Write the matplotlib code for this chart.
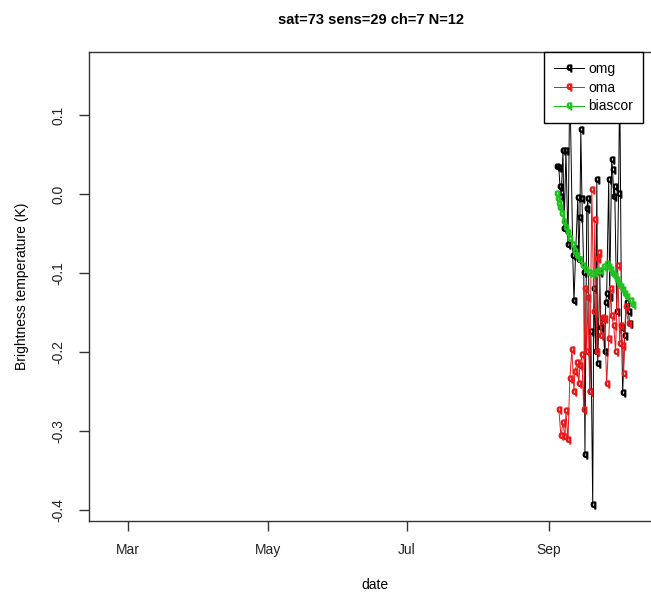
import datetime as dt
import matplotlib
matplotlib.use("Agg")
import matplotlib.pyplot as plt
import matplotlib.dates as mdates

plt.rcParams["font.family"] = ["Liberation Sans", "DejaVu Sans"]

# days after 1 Sep and the departures (K)
omg_days = [3.5, 4.3, 4.8, 5.3, 6.1, 6.6, 7.4, 8.3, 9.1, 10.4, 10.9, 11.7, 12.6,
            13.0, 13.5, 13.9, 14.4, 15.2, 15.7, 16.5, 17.0, 17.8, 18.3, 19.1,
            19.6, 20.4, 20.9, 21.3, 22.2, 22.6, 23.5, 24.3, 24.8, 25.2, 26.1,
            26.5, 27.4, 27.8, 28.3, 28.7, 29.6, 30.4, 30.9, 31.7, 32.2, 33.0,
            33.9, 34.8, 35.2]
omg_vals = [0.034, 0.033, 0.009, -0.004, 0.055, -0.044, 0.055, -0.065, 0.146,
            -0.079, -0.136, -0.07, -0.005, -0.084, -0.031, 0.081, -0.006, -0.1,
            -0.33, -0.019, -0.006, -0.25, -0.175, -0.394, -0.12, -0.2, 0.018,
            -0.215, -0.1, -0.169, -0.158, -0.2, -0.138, -0.126, 0.018, -0.13,
            0.043, 0.03, -0.004, 0.009, -0.15, 0.0, 0.15, -0.17, -0.252, -0.18,
            -0.138, -0.15, -0.165]

oma_days = [4.3, 5.2, 6.1, 7.0, 7.4, 8.3, 9.1, 10.0, 10.9, 11.3, 12.2, 13.0,
            13.5, 14.3, 15.2, 15.7, 16.5, 17.0, 17.8, 18.7, 19.6, 20.0, 20.9,
            21.3, 21.7, 22.6, 23.5, 24.3, 25.2, 26.1, 27.0, 27.4, 28.3, 29.1,
            30.0, 30.9, 31.3, 32.2, 32.6, 33.5, 34.8]
oma_vals = [-0.273, -0.306, -0.29, -0.308, -0.275, -0.311, -0.234, -0.197,
            -0.25, -0.225, -0.214, -0.24, -0.218, -0.204, -0.274, -0.12, -0.2,
            -0.132, -0.25, 0.005, -0.15, -0.033, -0.2, -0.082, -0.075, -0.18,
            -0.157, -0.158, -0.24, -0.184, -0.12, -0.155, -0.167, -0.2, -0.091,
            -0.19, -0.167, -0.192, -0.228, -0.143, -0.165]

bias_days = [3.5, 3.9, 4.3, 4.8, 5.7, 6.5, 7.4, 8.3, 9.1, 10.4, 11.3, 12.2,
             13.5, 14.8, 16.1, 17.4, 18.7, 20.0, 21.3, 22.6, 23.9, 25.2, 26.1,
             27.0, 27.8, 28.7, 29.6, 30.4, 31.3, 32.2, 33.0, 34.3, 35.7, 36.5]
bias_vals = [0.0, -0.006, -0.013, -0.018, -0.025, -0.035, -0.043, -0.050,
             -0.057, -0.065, -0.073, -0.078, -0.084, -0.091, -0.096, -0.100,
             -0.101, -0.100, -0.098, -0.097, -0.093, -0.089, -0.092, -0.096,
             -0.101, -0.104, -0.109, -0.114, -0.118, -0.122, -0.126, -0.131,
             -0.136, -0.140]

xtick_months = [3, 5, 7, 9]
xtick_labels = ["Mar", "May", "Jul", "Sep"]
year = 2015

sep1 = dt.datetime(year, 9, 1)
to_dates = lambda days: [sep1 + dt.timedelta(days=d) for d in days]

fig = plt.figure(figsize=(6.51, 5.92), dpi=100)
ax = fig.add_axes([0.1367, 0.1199, 0.8771, 0.7923])

qmark = r"$\mathsf{q}$"
ax.plot(to_dates(omg_days), omg_vals, color="black", lw=0.7, marker=qmark,
        ms=5, label="omg")
ax.plot(to_dates(oma_days), oma_vals, color="#e8191b", lw=0.7, marker=qmark,
        ms=5, label="oma")
ax.plot(to_dates(bias_days), bias_vals, color="#1fc21f", lw=0.8, marker=qmark,
        ms=5, label="biascor")

x0 = mdates.date2num(dt.datetime(year, 3, 1)) - 17.05
x1 = mdates.date2num(sep1) + 48.5
ax.set_xlim(x0, x1)
ax.set_ylim(-0.4139, 0.1797)

ax.set_xticks([dt.datetime(year, m, 1) for m in xtick_months])
ax.set_xticklabels(xtick_labels)
ax.set_yticks([0.1, 0.0, -0.1, -0.2, -0.3, -0.4])
ax.set_yticklabels(["0.1", "0.0", "-0.1", "-0.2", "-0.3", "-0.4"],
                   rotation=90, va="center")

for s in ax.spines.values():
    s.set_color("#333333")
    s.set_linewidth(1.0)
ax.tick_params(axis="both", direction="out", length=7, width=1,
               color="#333333", labelsize=10, labelcolor="#222222")
ax.tick_params(axis="x", pad=9)
ax.tick_params(axis="y", pad=10)

ax.set_xlabel("date", fontsize=10, va="center")
ax.xaxis.set_label_coords(0.5, -0.136)
ax.set_ylabel("Brightness temperature (K)", fontsize=10, labelpad=16)
fig.suptitle("sat=73 sens=29 ch=7 N=12", fontsize=10.5, fontweight="bold",
             x=0.57, y=0.978)

ax.legend(loc="upper left", bbox_to_anchor=(0.797, 1.0), borderaxespad=0,
          fancybox=False, framealpha=1, edgecolor="black", fontsize=10,
          handlelength=2.2, labelspacing=0.35, borderpad=0.7,
          handletextpad=0.3, handleheight=0.7)

fig.savefig("out.png", dpi=100)
